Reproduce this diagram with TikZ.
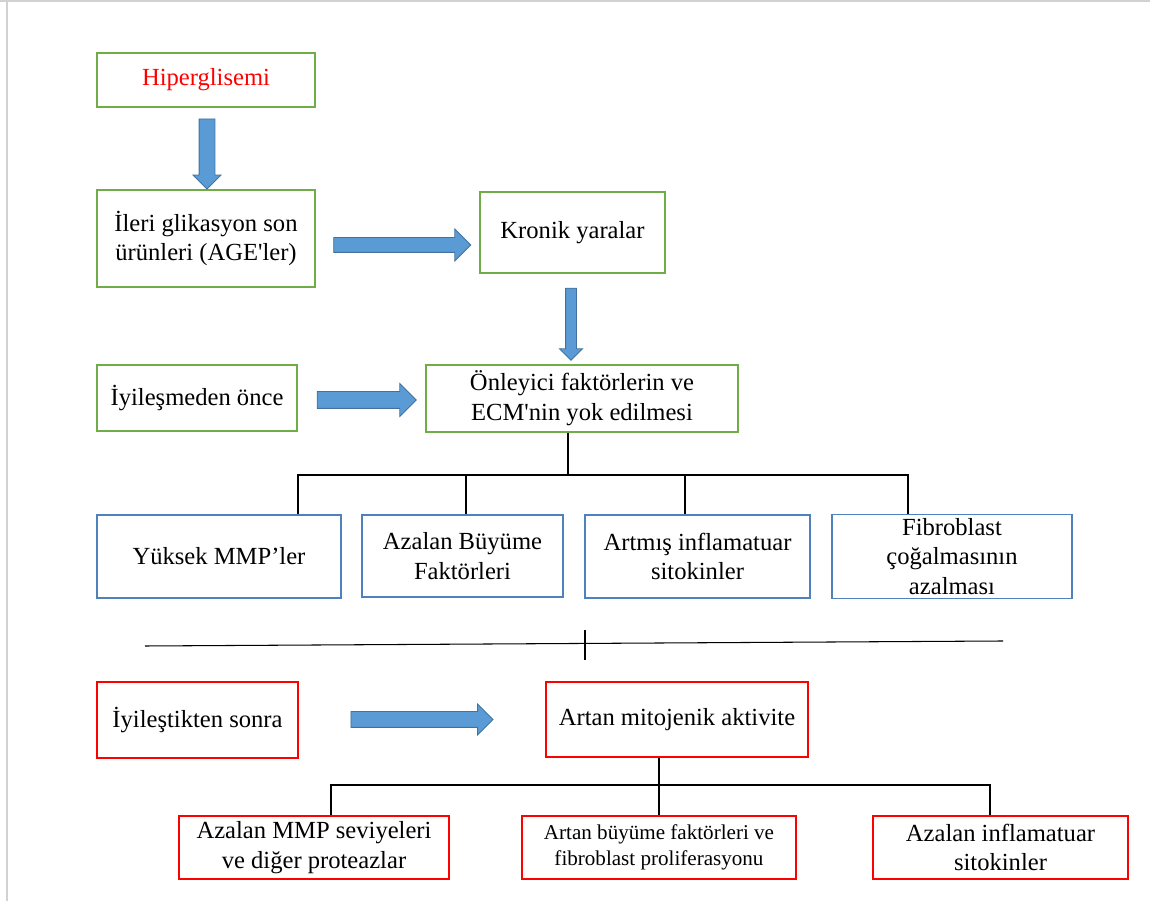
\documentclass[tikz,border=0pt]{standalone}
\usepackage{fontspec}
\setmainfont{Liberation Serif}
\usetikzlibrary{shapes.arrows}

\definecolor{boxgreen}{RGB}{112,173,71}
\definecolor{boxblue}{RGB}{79,129,189}
\definecolor{boxred}{RGB}{255,0,0}
\definecolor{arrfill}{RGB}{91,155,213}
\definecolor{arrline}{RGB}{65,113,156}

\tikzset{
    box/.style={draw, line width=0.8pt, align=center, inner sep=2pt,
        font=\fontsize{14}{17}\selectfont},
    greenbox/.style={box, draw=boxgreen},
    bluebox/.style={box, draw=boxblue},
    redbox/.style={box, draw=boxred},
    link/.style={draw=black, line width=0.6pt},
    barrow/.style={single arrow, draw=arrline, fill=arrfill, line width=0.5pt,
        single arrow tip angle=90, single arrow head indent=0pt}
}

\begin{document}
\begin{tikzpicture}[x=0.02cm, y=-0.02cm]
        \useasboundingbox (0,0) rectangle (1150,901);
        \draw[gray!35, line width=1pt] (0,1) -- (1150,1);
        \draw[gray!35, line width=1pt] (7,1) -- (7,901);

        \node[greenbox, minimum width=4.36cm, minimum height=1.08cm, text=boxred] (hiper) at (206,80) {Hiperglisemi};
        \node[greenbox, minimum width=4.36cm, minimum height=1.94cm] (age) at (206,238.5) {İleri glikasyon son\\ürünleri (AGE\textquotesingle ler)};
        \node[greenbox, minimum width=3.7cm, minimum height=1.62cm] (kronik) at (572.5,232.5) {Kronik yaralar};
        \node[greenbox, minimum width=4.0cm, minimum height=1.32cm] (once) at (197,398) {İyileşmeden önce};
        \node[greenbox, minimum width=6.24cm, minimum height=1.34cm] (onleyici) at (582,398.5) {Önleyici faktörlerin ve\\ECM\textquotesingle nin yok edilmesi};

        \node[bluebox, minimum width=4.88cm, minimum height=1.66cm] (yuksek) at (219,556.5) {Yüksek MMP’ler};
        \node[bluebox, minimum width=4.02cm, minimum height=1.64cm] (buyume) at (462.5,556) {Azalan Büyüme\\Faktörleri};
        \node[bluebox, minimum width=4.5cm, minimum height=1.66cm] (artmis) at (697.5,556.5) {Artmış inflamatuar\\sitokinler};
        \node[bluebox, minimum width=4.8cm, minimum height=1.66cm] (fibro) at (952,556.5) {Fibroblast\\çoğalmasının\\azalması};

        \node[redbox, minimum width=4.02cm, minimum height=1.52cm] (sonra) at (197.5,720) {İyileştikten sonra};
        \node[redbox, minimum width=5.24cm, minimum height=1.5cm] (mitojen) at (677,719.5) {Artan mitojenik aktivite};
        \node[redbox, minimum width=5.4cm, minimum height=1.26cm] (azmmp) at (314,847.5) {Azalan MMP seviyeleri\\ve diğer proteazlar};
        \node[redbox, minimum width=5.48cm, minimum height=1.26cm, font=\fontsize{12}{15}\selectfont] (artbuy) at (659,847.5) {Artan büyüme faktörleri ve\\fibroblast proliferasyonu};
        \node[redbox, minimum width=5.1cm, minimum height=1.26cm] (azinf) at (1000.5,847.5) {Azalan inflamatuar\\sitokinler};

        \node[barrow, minimum height=1.4cm, inner sep=0.15cm, single arrow head extend=0.12cm, rotate=-90] (ar1) at (207,150) {};
        \node[barrow, minimum height=2.74cm, inner sep=0.14cm, single arrow head extend=0.17cm] (ar2) at (398.5,245) {};
        \node[barrow, minimum height=1.44cm, inner sep=0.1cm, single arrow head extend=0.12cm, rotate=-90] (ar3) at (571,321.5) {};
        \node[barrow, minimum height=1.98cm, inner sep=0.16cm, single arrow head extend=0.16cm] (ar4) at (362.5,400) {};
        \node[barrow, minimum height=2.84cm, inner sep=0.15cm, single arrow head extend=0.15cm] (ar5) at (418,719.5) {};

        \coordinate (busA) at (568,475);
        \coordinate (b1) at (298,475);
        \coordinate (b2) at (466,475);
        \coordinate (b3) at (685,475);
        \coordinate (b4) at (908,475);
        \draw[link] (onleyici.south -| busA) -- (busA);
        \draw[link] (b1 |- yuksek.north) -- (b1) -- (b4) -- (b4 |- fibro.north);
        \draw[link] (b2) -- (b2 |- buyume.north);
        \draw[link] (b3) -- (b3 |- artmis.north);

        \coordinate (sepL) at (145,646);
        \coordinate (sepR) at (1003,641);
        \coordinate (tickT) at (585,630);
        \coordinate (tickB) at (585,660);
        \draw[link] (sepL) -- (sepR);
        \draw[link] (tickT) -- (tickB);

        \coordinate (busB) at (659,785);
        \coordinate (c1) at (331,785);
        \coordinate (c3) at (990,785);
        \draw[link] (mitojen.south -| busB) -- (busB) -- (busB |- artbuy.north);
        \draw[link] (c1 |- azmmp.north) -- (c1) -- (c3) -- (c3 |- azinf.north);
\end{tikzpicture}
\end{document}
